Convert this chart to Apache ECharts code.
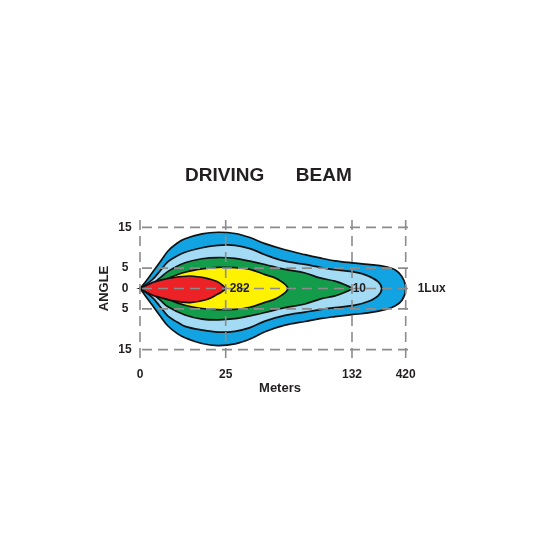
<!DOCTYPE html>
<html><head><meta charset="utf-8">
<script src="https://cdn.jsdelivr.net/npm/echarts@6/dist/echarts.min.js"></script>
<style>html,body{margin:0;padding:0;background:#fff}#c{width:560px;height:560px}</style>
</head><body><div id="c"></div>
<script>
// Axis ticks (x in drawing-distance units, labelled in meters)
const xTickPos = [0, 85.7, 212, 265.7];
const xTickLabels = ['0', '25', '132', '420'];
const yTickVals = [15, 5, 0, -5, -15];
const yTickLabels = ['15', '5', '0', '5', '15'];

// Beam contours: x position, upper and lower angle (deg)
const blueX  = [0, 6, 12, 20, 28, 37, 45, 62, 78, 95, 110, 125, 145, 165, 180, 195, 212, 228, 245, 255, 262, 265.7];
const blueUp = [0, 1.8, 3.8, 6.5, 9.2, 11.1, 12.2, 13.4, 13.8, 13.5, 12.5, 11.0, 9.5, 8.3, 7.5, 6.8, 6.3, 5.9, 5.4, 4.6, 2.9, 0];
const blueLo = [0, -2.0, -4.0, -6.7, -9.2, -11.0, -12.1, -13.5, -14.0, -13.6, -12.4, -10.6, -9.0, -8.1, -7.4, -6.9, -6.4, -6.0, -5.2, -4.3, -2.9, 0];

const lightX  = [0, 12, 20, 28, 37, 45, 62, 78, 95, 110, 125, 145, 165, 180, 195, 215, 228, 238, 241.7];
const lightUp = [0, 2.1, 4.3, 6.6, 8.0, 8.9, 10.0, 10.6, 10.6, 9.8, 8.3, 6.7, 5.9, 5.2, 4.6, 4.0, 3.1, 1.7, 0];
const lightLo = [0, -2.1, -4.4, -6.8, -8.2, -9.3, -10.2, -10.7, -10.5, -9.6, -8.0, -6.6, -5.8, -5.2, -4.7, -4.1, -3.2, -1.8, 0];

const greenX  = [0, 12, 20, 28, 45, 62, 78, 95, 110, 125, 145, 165, 180, 195, 205, 211.7];
const greenUp = [0, 1.1, 2.6, 4.2, 6.3, 7.3, 7.6, 7.4, 6.7, 5.9, 4.7, 3.8, 2.6, 1.8, 0.9, 0];
const greenLo = [0, -1.2, -2.8, -4.5, -6.5, -7.5, -7.7, -7.4, -6.7, -5.9, -4.7, -3.8, -2.6, -1.8, -0.9, 0];

const yellowX  = [0, 12, 28, 45, 62, 78, 95, 110, 125, 135, 142, 146, 148];
const yellowUp = [0, 0.6, 2.5, 4.0, 4.8, 5.2, 5.1, 4.7, 3.4, 2.6, 1.6, 0.8, 0];
const yellowLo = [0, -0.7, -2.6, -4.1, -4.9, -5.2, -5.1, -4.6, -3.4, -2.6, -1.6, -0.8, 0];

const redX  = [0, 10, 17, 33, 50, 67, 77, 83, 85.7];
const redUp = [0, 1.2, 1.8, 2.65, 3.07, 2.5, 1.7, 0.7, 0];
const redLo = [0, -1.35, -2.0, -3.0, -3.45, -2.7, -1.5, -0.6, 0];

// Lux labels and the contour each belongs to
const luxLabels = ['282', '10', '1Lux'];
const luxContour = ['red', 'green', 'blue'];

const contours = [
  {name: 'blue',   x: blueX,   up: blueUp,   lo: blueLo,   color: '#12a3e2'},
  {name: 'light',  x: lightX,  up: lightUp,  lo: lightLo,  color: '#a3daf4'},
  {name: 'green',  x: greenX,  up: greenUp,  lo: greenLo,  color: '#139d4a'},
  {name: 'yellow', x: yellowX, up: yellowUp, lo: yellowLo, color: '#fff200'},
  {name: 'red',    x: redX,    up: redUp,    lo: redLo,    color: '#ec2227'}
];
const labelOffset = {red: 4, green: 1, blue: 12};

const FONT = '"Liberation Sans", Arial, sans-serif';
const TXT = '#231f20';

const chart = echarts.init(document.getElementById('c'), null, {renderer: 'canvas'});

const gridLines = [];
yTickVals.forEach(v => gridLines.push([2, v, 272, v]));
xTickPos.forEach(p => gridLines.push([p, 16.8, p, -18.1]));

function nearestIdx(arr, v) {
  let b = 0;
  arr.forEach((a, i) => { if (Math.abs(a - v) < Math.abs(arr[b] - v)) b = i; });
  return b;
}

const option = {
  animation: false,
  backgroundColor: '#ffffff',
  title: {
    text: 'DRIVING      BEAM',
    left: 180, top: 161,
    textStyle: {fontFamily: FONT, fontWeight: 'bold', fontSize: 19, color: TXT}
  },
  grid: {left: 140, top: 207, width: 280, height: 163},
  xAxis: {
    type: 'value', min: 0, max: 280,
    axisLine: {show: false}, axisTick: {show: false}, splitLine: {show: false},
    axisLabel: {
      customValues: xTickPos,
      formatter: v => xTickLabels[nearestIdx(xTickPos, v)],
      fontFamily: FONT, fontWeight: 'bold', fontSize: 12, color: TXT,
      verticalAlign: 'middle', margin: 5
    },
    name: 'Meters', nameLocation: 'middle', nameGap: 12,
    nameTextStyle: {fontFamily: FONT, fontWeight: 'bold', fontSize: 13, color: TXT}
  },
  yAxis: {
    type: 'value', min: -20, max: 20,
    axisLine: {show: false}, axisTick: {show: false}, splitLine: {show: false},
    axisLabel: {
      customValues: yTickVals,
      formatter: v => yTickLabels[nearestIdx(yTickVals, v)],
      fontFamily: FONT, fontWeight: 'bold', fontSize: 12, color: TXT,
      align: 'center', margin: 15
    },
    name: 'ANGLE', nameLocation: 'middle', nameGap: 29, nameRotate: 90,
    nameTextStyle: {fontFamily: FONT, fontWeight: 'bold', fontSize: 13, color: TXT}
  },
  series: [
    {
      type: 'custom', z: 2, silent: true,
      data: contours.map((c, i) => [i]),
      renderItem: (params, api) => {
        const c = contours[api.value(0)];
        const pts = [];
        for (let j = 0; j < c.x.length; j++) pts.push(api.coord([c.x[j], c.up[j]]));
        for (let j = c.x.length - 2; j >= 0; j--) pts.push(api.coord([c.x[j], c.lo[j]]));
        return {
          type: 'polygon',
          shape: {points: pts, smooth: 0.35},
          style: {fill: c.color, stroke: '#111', lineWidth: 1.7}
        };
      }
    },
    {
      type: 'custom', z: 5, silent: true,
      data: gridLines,
      renderItem: (params, api) => {
        const a = api.coord([api.value(0), api.value(1)]);
        const b = api.coord([api.value(2), api.value(3)]);
        return {
          type: 'line',
          shape: {x1: a[0], y1: a[1], x2: b[0], y2: b[1]},
          style: {stroke: '#8c8c8c', lineWidth: 1.6, lineDash: [10, 6]}
        };
      }
    },
    {
      type: 'custom', z: 8, silent: true,
      data: luxLabels.map((l, i) => [i]),
      renderItem: (params, api) => {
        const i = api.value(0);
        const c = contours.find(k => k.name === luxContour[i]);
        const p = api.coord([c.x[c.x.length - 1], 0]);
        return {
          type: 'text',
          x: p[0] + labelOffset[c.name], y: p[1],
          style: {
            text: luxLabels[i], fill: TXT,
            font: 'bold 12px ' + FONT,
            textAlign: 'left', textVerticalAlign: 'middle'
          }
        };
      }
    }
  ]
};
chart.setOption(option);
</script>
</body></html>
